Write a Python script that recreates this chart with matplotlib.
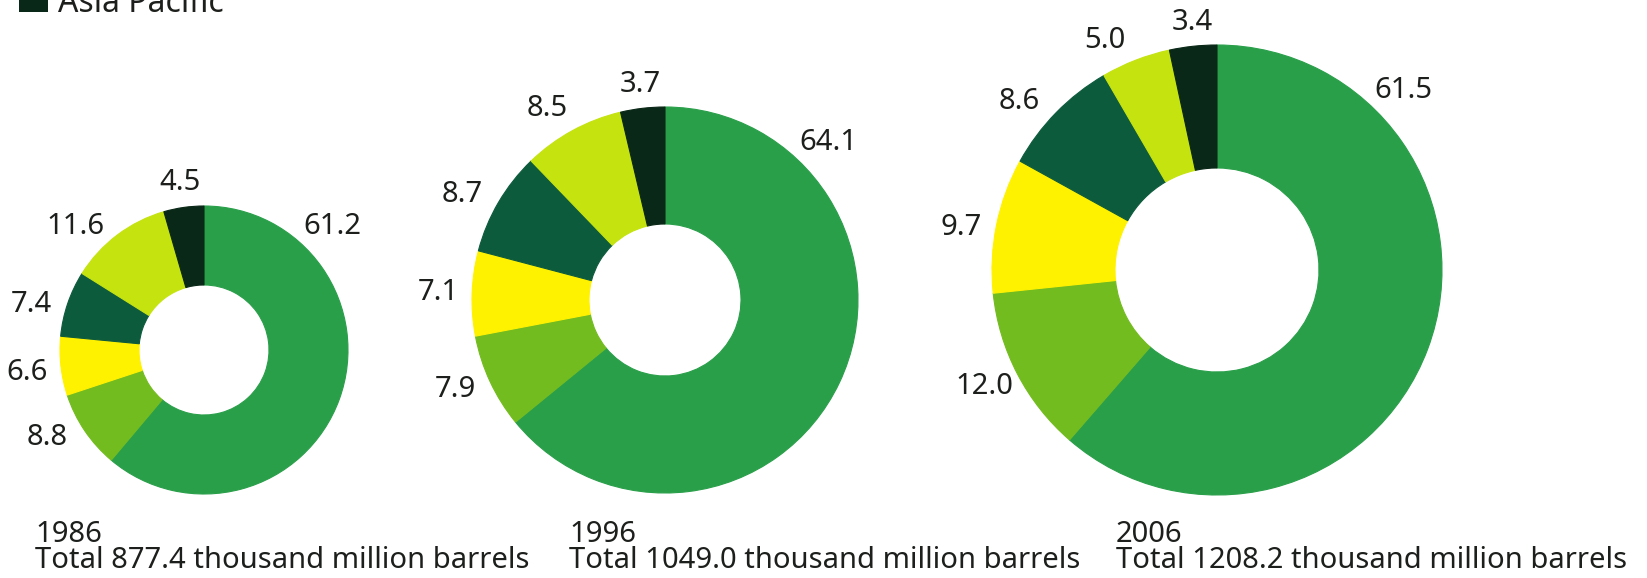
import numpy as np
import matplotlib.pyplot as plt
from matplotlib.patches import Rectangle

plt.rcParams['font.family'] = ['Noto Sans', 'DejaVu Sans']

# share of proved oil reserves, percent (clockwise from 12 o'clock)
regions = ['Middle East', 'Europe & Eurasia', 'Africa',
           'S. & Cent. America', 'North America', 'Asia Pacific']
share_1986 = [61.2, 8.8, 6.6, 7.4, 11.6, 4.5]
share_1996 = [64.1, 7.9, 7.1, 8.7, 8.5, 3.7]
share_2006 = [61.5, 12.0, 9.7, 8.6, 5.0, 3.4]
years = ['1986', '1996', '2006']
totals = ['877.4', '1049.0', '1208.2']

colors = ['#2a9f4a', '#73bc1f', '#fff200', '#0d5b3d', '#c5e30f', '#0a2817']
txt_color = '#1c1f1c'

W, H = 1647, 578
fig = plt.figure(figsize=(W / 100, H / 100), dpi=100)
ax = fig.add_axes([0, 0, 1, 1])

# layout in pixels (x from left, y from top): centre, outer and inner radius
layout = [
    (204, 350, 144, 65),
    (665, 300, 193, 76),
    (1217, 270, 225, 102),
]
# small angle nudges (deg) so the labels don't crowd
nudges = [
    [0, -5, 1, 4, 9, 0],
    [0, -2, 0, 3, 3, 0],
    [0, -1, 2, 4, 5, -0.5],
]
text_x = [35, 569, 1116]


def donut(vals, cx, cy, r, r_in, nudge):
    cy = H - cy
    wedges, _ = ax.pie(vals, colors=colors, startangle=90, counterclock=False,
                       radius=r, center=(cx, cy), frame=True,
                       wedgeprops=dict(width=r - r_in, linewidth=0.8))
    for w in wedges:
        w.set_edgecolor(w.get_facecolor())
    big = int(np.argmax(vals))
    for i, (w, v) in enumerate(zip(wedges, vals)):
        ang = (w.theta1 + w.theta2) / 2 + nudge[i] if i != big else 44
        a = np.deg2rad(ang)
        off = 12 + 21 * abs(np.cos(a)) + 10 * abs(np.sin(a))
        ax.text(cx + (r + off) * np.cos(a), cy + (r + off) * np.sin(a),
                f'{v:.1f}', ha='center', va='center', fontsize=21,
                color=txt_color)


for vals, (cx, cy, r, r_in), nd in zip([share_1986, share_1996, share_2006],
                                       layout, nudges):
    donut(vals, cx, cy, r, r_in, nd)

for x, yr, tot in zip(text_x, years, totals):
    ax.text(x, H - 542, yr, fontsize=21, color=txt_color, va='baseline')
    ax.text(x, H - 568, f'Total {tot} thousand million barrels', fontsize=21,
            color=txt_color, va='baseline')

# last entry of the legend, cut off by the top edge
ax.add_patch(Rectangle((19, H - 12), 29, 29, facecolor=colors[-1],
                       edgecolor='none', clip_on=False))
ax.text(58, H - 12, regions[-1], fontsize=23, color=txt_color, va='baseline')

ax.set_xlim(0, W)
ax.set_ylim(0, H)
ax.set_aspect('auto')
ax.axis('off')

fig.savefig('out.png', dpi=100)
